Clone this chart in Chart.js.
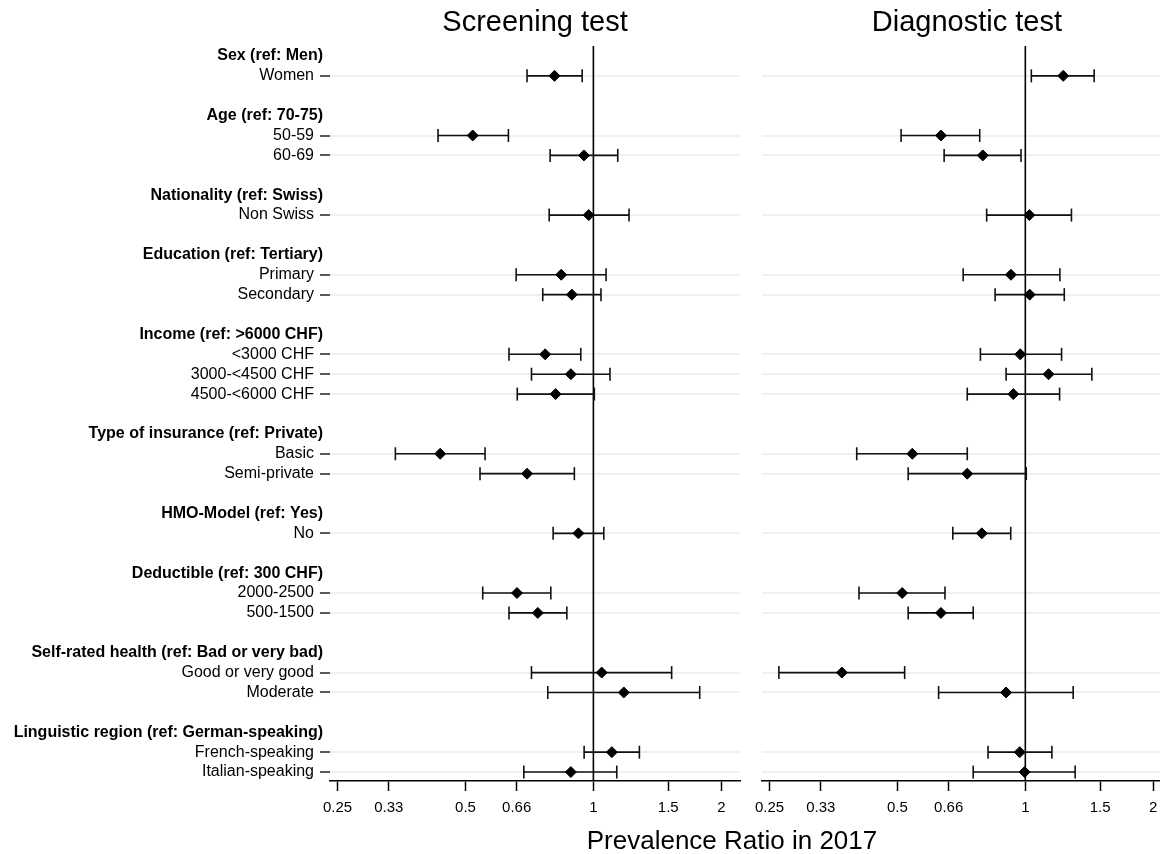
<!DOCTYPE html>
<html>
<head>
<meta charset="utf-8">
<script src="https://cdn.jsdelivr.net/npm/chart.js@4.4.1/dist/chart.umd.min.js"></script>
<style>
    html, body { margin: 0; padding: 0; background: #fff; overflow: hidden; }
    #page { position: relative; width: 1160px; height: 854px; overflow: hidden; }
    #c-screen { position: absolute; left: 0; top: 0; }
    #c-diag { position: absolute; left: 750px; top: 0; }
    #xtitle {
        position: absolute; left: 732px; top: 827px; transform: translateX(-50%);
        font: 26px "Liberation Sans", Arial, sans-serif; line-height: 26px; color: #000; white-space: nowrap;
    }
</style>
</head>
<body>
<div id="page">
    <canvas id="c-screen" width="750" height="854"></canvas>
    <canvas id="c-diag" width="430" height="854"></canvas>
    <div id="xtitle">Prevalence Ratio in 2017</div>
</div>
<script>
'use strict';

/* global Chart */

// groupes de variables et leurs modalités
const groupTitles = ['Sex (ref: Men)', 'Age (ref: 70-75)', 'Nationality (ref: Swiss)', 'Education (ref: Tertiary)',
    'Income (ref: >6000 CHF)', 'Type of insurance (ref: Private)', 'HMO-Model (ref: Yes)', 'Deductible (ref: 300 CHF)',
    'Self-rated health (ref: Bad or very bad)', 'Linguistic region (ref: German-speaking)'];
const groupItems = [['Women'], ['50-59', '60-69'], ['Non Swiss'], ['Primary', 'Secondary'],
    ['<3000 CHF', '3000-<4500 CHF', '4500-<6000 CHF'], ['Basic', 'Semi-private'], ['No'],
    ['2000-2500', '500-1500'], ['Good or very good', 'Moderate'], ['French-speaking', 'Italian-speaking']];

// Screening test
const screenPR = [0.81, 0.52, 0.95, 0.975, 0.84, 0.89, 0.77, 0.885, 0.815, 0.436, 0.698, 0.922, 0.661, 0.74, 1.046, 1.179, 1.105, 0.885];
const screenLo = [0.698, 0.431, 0.791, 0.787, 0.658, 0.76, 0.633, 0.715, 0.662, 0.342, 0.541, 0.804, 0.549, 0.633, 0.715, 0.781, 0.951, 0.686];
const screenHi = [0.941, 0.631, 1.141, 1.213, 1.071, 1.042, 0.934, 1.094, 1.005, 0.556, 0.902, 1.058, 0.794, 0.866, 1.528, 1.779, 1.283, 1.135];

// Diagnostic test
const diagPR = [1.228, 0.633, 0.794, 1.022, 0.925, 1.024, 0.973, 1.134, 0.937, 0.542, 0.73, 0.79, 0.513, 0.633, 0.37, 0.901, 0.97, 0.996];
const diagLo = [1.033, 0.51, 0.644, 0.811, 0.714, 0.849, 0.784, 0.901, 0.73, 0.401, 0.53, 0.675, 0.406, 0.53, 0.263, 0.625, 0.817, 0.754];
const diagHi = [1.452, 0.781, 0.977, 1.284, 1.206, 1.235, 1.217, 1.434, 1.204, 0.73, 1.005, 0.924, 0.647, 0.754, 0.52, 1.296, 1.155, 1.31];

const xTicks = [0.25, 0.33, 0.5, 0.66, 1, 1.5, 2];
const refRatio = 1;

document.addEventListener('DOMContentLoaded', function () {
    Chart.defaults.font.family = '"Liberation Sans", Arial, sans-serif';
    Chart.defaults.color = '#000';

    // lignes : titre de groupe, modalités, ligne vide
    let rowLabels = [];
    let headerRows = [];
    let itemRows = [];
    groupTitles.forEach(function (title, g) {
        headerRows.push(rowLabels.length);
        rowLabels.push(title);
        groupItems[g].forEach(function (item) {
            itemRows.push(rowLabels.length);
            rowLabels.push(item);
        });
        if (g < groupTitles.length - 1) {
            rowLabels.push('');
        }
    });
    const yMin = -0.5;
    const yMax = rowLabels.length - 0.55;

    function ciData(lo, hi) {
        let data = [];
        itemRows.forEach(function (row, i) {
            data.push({ x: lo[i], y: row }, { x: hi[i], y: row }, { x: null, y: row });
        });
        return data;
    }

    function prData(pr) {
        return itemRows.map((row, i) => ({ x: pr[i], y: row }));
    }

    const headerPlugin = {
        id: 'headers',
        afterDraw: function (chart) {
            const ctx = chart.ctx;
            const yScale = chart.scales.y;
            ctx.save();
            ctx.font = 'bold 16px "Liberation Sans", Arial, sans-serif';
            ctx.fillStyle = '#000';
            ctx.textAlign = 'right';
            ctx.textBaseline = 'middle';
            headerRows.forEach(function (row) {
                ctx.fillText(rowLabels[row], chart.chartArea.left - 7, yScale.getPixelForValue(row));
            });
            ctx.restore();
        }
    };

    function makeChart(canvasId, title, pr, lo, hi, withLabels) {
        const ctx = document.getElementById(canvasId).getContext('2d');
        return new Chart(ctx, {
            type: 'scatter',
            data: {
                datasets: [
                    {
                        data: prData(pr),
                        pointStyle: 'rectRot',
                        pointRadius: 5.5,
                        pointBackgroundColor: '#000',
                        pointBorderColor: '#000',
                        pointBorderWidth: 1,
                        order: 1
                    },
                    {
                        data: ciData(lo, hi),
                        showLine: true,
                        spanGaps: false,
                        borderColor: '#111',
                        borderWidth: 1.6,
                        pointStyle: 'line',
                        rotation: 90,
                        pointRadius: 6.5,
                        pointBorderColor: '#111',
                        pointBorderWidth: 1.6,
                        order: 2
                    },
                    {
                        // ligne de référence PR = 1
                        data: [{ x: refRatio, y: yMin }, { x: refRatio, y: yMax }],
                        showLine: true,
                        borderColor: '#000',
                        borderWidth: 1.6,
                        pointRadius: 0,
                        clip: false,
                        order: 3
                    }
                ]
            },
            options: {
                responsive: false,
                animation: false,
                events: [],
                layout: { padding: { left: withLabels ? 0 : 12, right: withLabels ? 10 : 8, top: 0, bottom: 0 } },
                plugins: {
                    legend: { display: false },
                    tooltip: { enabled: false },
                    title: {
                        display: true,
                        text: title,
                        fullSize: false,
                        color: '#000',
                        font: { size: 29, weight: 'normal' },
                        padding: { top: 6, bottom: 5.2 }
                    }
                },
                scales: {
                    x: {
                        type: 'logarithmic',
                        min: 0.24,
                        max: 2.213,
                        afterBuildTicks: function (scale) {
                            scale.ticks = xTicks.map(v => ({ value: v }));
                        },
                        afterFit: function (scale) {
                            scale.height = 73;
                            scale.paddingLeft = 0;
                            scale.paddingRight = 0;
                        },
                        ticks: {
                            callback: v => String(v),
                            autoSkip: false,
                            maxRotation: 0,
                            padding: 8,
                            font: { size: 15 }
                        },
                        grid: {
                            drawOnChartArea: false,
                            tickColor: '#000',
                            tickLength: 10,
                            tickWidth: 1.5
                        },
                        border: { display: true, color: '#000', width: 1.6 }
                    },
                    y: {
                        type: 'linear',
                        reverse: true,
                        min: yMin,
                        max: yMax,
                        afterBuildTicks: function (scale) {
                            scale.ticks = rowLabels.map((l, i) => ({ value: i }));
                        },
                        afterFit: function (scale) {
                            scale.width = withLabels ? 330 : 0;
                            scale.paddingTop = 0;
                            scale.paddingBottom = 0;
                        },
                        ticks: {
                            display: withLabels,
                            autoSkip: false,
                            padding: 6,
                            font: { size: 16 },
                            callback: function (v) {
                                return itemRows.includes(v) ? rowLabels[v] : '';
                            }
                        },
                        grid: {
                            drawTicks: withLabels,
                            tickLength: 10,
                            tickWidth: 1.5,
                            lineWidth: 2,
                            color: c => (c.tick && itemRows.includes(c.tick.value) ? '#eaf2f3' : 'rgba(0,0,0,0)'),
                            tickColor: c => (c.tick && itemRows.includes(c.tick.value) ? '#222' : 'rgba(0,0,0,0)')
                        },
                        border: { display: false }
                    }
                }
            },
            plugins: withLabels ? [headerPlugin] : []
        });
    }

    // eslint-disable-next-line no-unused-vars
    let chartScreen = makeChart('c-screen', 'Screening test', screenPR, screenLo, screenHi, true);
    // eslint-disable-next-line no-unused-vars
    let chartDiag = makeChart('c-diag', 'Diagnostic test', diagPR, diagLo, diagHi, false);
});
</script>
</body>
</html>
